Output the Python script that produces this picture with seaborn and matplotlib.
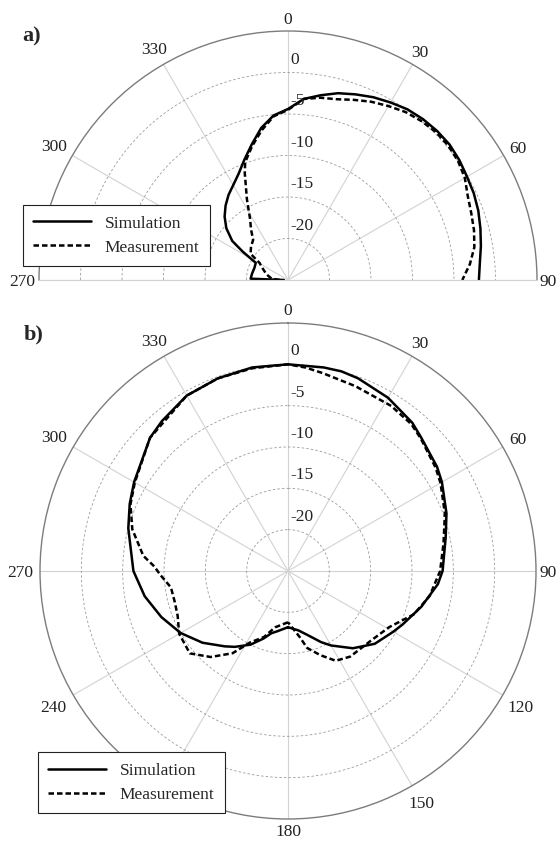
import numpy as np
import matplotlib
matplotlib.use("Agg")
import matplotlib.pyplot as plt
import seaborn as sns

# estilo
sns.set_theme(style="white")
plt.rcParams['font.family'] = ['Liberation Serif', 'DejaVu Serif']
plt.rcParams['axes.unicode_minus'] = False

# ---------------------------------------------------------------------------
# a) plano de elevação (-90 .. 90 graus)
# ---------------------------------------------------------------------------
ang_sim_a = [-90, -88, -80, -70, -62, -58, -55, -50, -45, -40, -35, -30, -25,
             -20, -15, -10, -5, 0, 5, 10, 15, 20, 25, 30, 35, 40, 45, 50, 55,
             60, 65, 70, 75, 80, 85, 90]
db_sim_a = [-24.5, -20.5, -20.6, -20.7, -20.6, -18.6, -16.8, -15.3, -14.2,
            -13.3, -12.5, -11.8, -10.9, -9.6, -8.1, -6.4, -5.1, -4.4, -3.1,
            -2.4, -1.7, -1.2, -0.7, -0.3, 0.1, 0.3, 0.4, 0.4, 0.2, -0.1, -0.3,
            -0.6, -1.0, -1.4, -1.8, -2.0]

ang_mea_a = [-90, -85, -75, -65, -59, -55, -48, -41, -36, -32, -27, -22, -20,
             -15, -10, -5, 0, 5, 10, 15, 20, 25, 30, 35, 40, 45, 50, 55, 60,
             65, 70, 75, 80, 85, 90]
db_mea_a = [-24.0, -23.0, -22.3, -21.6, -21.0, -19.5, -19.0, -18.6, -17.4,
            -16.4, -14.1, -11.1, -9.9, -8.3, -6.7, -5.2, -4.5, -3.1, -2.7,
            -2.45, -1.9, -1.3, -0.8, -0.3, 0.0, 0.2, 0.2, 0.0, -0.4, -1.1,
            -1.5, -1.8, -2.2, -3.0, -4.0]

# ---------------------------------------------------------------------------
# b) plano azimutal (-180 .. 180 graus)
# ---------------------------------------------------------------------------
ang_sim_b = [-180, -170, -165, -160, -153, -145, -140, -130, -120, -110, -100,
             -90, -80, -75, -67, -60, -46, -40, -30, -20, -10, 0, 10, 15, 20,
             30, 40, 45, 55, 60, 70, 78, 90, 95, 105, 115, 120, 130, 140, 150,
             155, 163, 170, 180]
db_sim_b = [-18.2, -17.6, -17.2, -16.3, -15.0, -13.8, -13.1, -11.5, -10.0,
            -8.7, -7.4, -6.3, -5.6, -5.0, -4.2, -3.5, -1.8, -1.3, -0.5, -0.2,
            0.0, 0.0, 0.0, 0.0, -0.2, -0.8, -1.6, -2.2, -3.0, -3.5, -4.6, -5.5,
            -6.3, -6.8, -8.3, -9.7, -10.3, -11.3, -12.8, -14.6, -15.5, -16.9,
            -17.7, -18.2]

ang_mea_b = [-180, -167, -160, -152, -146, -138, -130, -120, -112, -105, -98,
             -92, -88, -84, -75, -67, -60, -46, -30, -20, -10, 0, 5, 10, 20,
             32, 40, 45, 55, 60, 70, 80, 90, 100, 109, 119, 130, 144, 152, 159,
             166, 170, 180]
db_mea_b = [-18.8, -18.0, -16.5, -15.2, -13.0, -11.0, -9.5, -9.8, -10.6,
            -10.8, -10.7, -9.6, -8.8, -7.4, -5.5, -4.3, -3.6, -1.8, -0.5, -0.2,
            -0.1, 0.0, -0.3, -0.7, -1.2, -1.45, -1.8, -2.3, -3.2, -3.7, -4.8,
            -5.9, -6.6, -7.6, -8.9, -11.0, -11.9, -12.2, -12.7, -14.1, -15.4,
            -16.9, -18.8]

# eixos / rótulos (o 210 fica escondido pela legenda no original)
theta_ticks_a = [-90, -60, -30, 0, 30, 60, 90]
theta_labels_a = ['270', '300', '330', '0', '30', '60', '90']
theta_ticks_b = list(range(0, 360, 30))
theta_labels_b = ['' if t == 210 else str(t) for t in theta_ticks_b]
r_ticks = [-20, -15, -10, -5, 0]
r_min, r_max = -25, 5

FS = 12.5
# distância (px) do círculo externo ao centro de cada rótulo angular
lbl_dist_a = {'0': 13, '30': 15.5, '60': 17, '90': 11, '270': 17,
              '300': 21.5, '330': 19}
lbl_dist_b = {'0': 14, '30': 16.5, '60': 17, '90': 12, '120': 21, '150': 19,
              '180': 11, '240': 22.5, '270': 20, '300': 22, '330': 19}


def style_polar(ax, ticks, labels, dists):
    ax.set_theta_zero_location('N')
    ax.set_theta_direction(-1)
    ax.set_ylim(r_min, r_max)
    ax.set_yticks(r_ticks)
    ax.set_yticklabels([])
    ax.set_xticks(np.deg2rad(ticks))
    ax.set_xticklabels([])
    ax.tick_params(axis='x', length=0)
    ax.xaxis.grid(True, color='#d2d2d2', lw=0.8, ls='-')
    ax.yaxis.grid(True, color='#9c9c9c', lw=0.6, ls=(0, (3, 2.5)))
    ax.spines['polar'].set_color('#7c7c7c')
    ax.spines['polar'].set_linewidth(1.0)
    # rótulos angulares
    for t, lab in zip(ticks, labels):
        if not lab:
            continue
        d = dists[lab] * 0.72
        a = np.deg2rad(t)
        ax.annotate(lab, xy=(a, r_max), xytext=(d * np.sin(a), d * np.cos(a)),
                    textcoords='offset points', ha='center',
                    va='center_baseline', fontsize=FS, color='#222222',
                    annotation_clip=False)
    # rótulos radiais
    for v in r_ticks:
        ax.annotate(str(v), xy=(0, v), xytext=(1.5, 3.5),
                    textcoords='offset points', ha='left', va='bottom',
                    fontsize=FS, color='#222222', zorder=5)


def draw_curves(ax, ang_s, db_s, ang_m, db_m):
    sns.lineplot(x=np.deg2rad(ang_s), y=db_s, ax=ax, sort=False,
                 estimator=None, color='black', lw=1.8, label='Simulation')
    sns.lineplot(x=np.deg2rad(ang_m), y=db_m, ax=ax, sort=False,
                 estimator=None, color='black', lw=1.8,
                 linestyle=(0, (2.2, 1.2)), label='Measurement')


def style_legend(ax, fig, anchor, loc):
    leg = ax.legend(loc=loc, bbox_to_anchor=anchor,
                    bbox_transform=fig.transFigure, frameon=True,
                    fancybox=False, edgecolor='#222222', framealpha=1,
                    borderpad=0.6, handlelength=3.3, handletextpad=0.8,
                    labelspacing=0.45, fontsize=FS, borderaxespad=0)
    leg.get_frame().set_linewidth(0.8)
    leg.set_zorder(10)
    return leg


W, H = 558, 841
fig = plt.figure(figsize=(W / 100, H / 100), dpi=100)

# a) meia-circunferência: a caixa quadrada tem o centro do disco a 1/4 da base
R_A, CY_A = 249, 280
ax1 = fig.add_axes([39 / W, (H - CY_A - 0.5 * R_A) / H, 2 * R_A / W, 2 * R_A / H],
                   projection='polar')
ax1.set_thetamin(-90)
ax1.set_thetamax(90)
style_polar(ax1, theta_ticks_a, theta_labels_a, lbl_dist_a)
for side in ['start', 'end']:
    ax1.spines[side].set_color('#d2d2d2')
    ax1.spines[side].set_linewidth(0.8)
draw_curves(ax1, ang_sim_a, db_sim_a, ang_mea_a, db_mea_a)
style_legend(ax1, fig, (23 / W, 1 - 205 / H), 'upper left')

# b)
ax2 = fig.add_axes([40 / W, 22 / H, 496 / W, 496 / H], projection='polar')
style_polar(ax2, theta_ticks_b, theta_labels_b, lbl_dist_b)
draw_curves(ax2, ang_sim_b, db_sim_b, ang_mea_b, db_mea_b)
style_legend(ax2, fig, (38 / W, 1 - 813 / H), 'lower left')

fig.text(32 / W, 1 - 36 / H, 'a)', ha='center', va='center',
         fontsize=16, fontweight='bold')
fig.text(34 / W, 1 - 334 / H, 'b)', ha='center', va='center',
         fontsize=16, fontweight='bold')

plt.savefig('out.png', dpi=100)
